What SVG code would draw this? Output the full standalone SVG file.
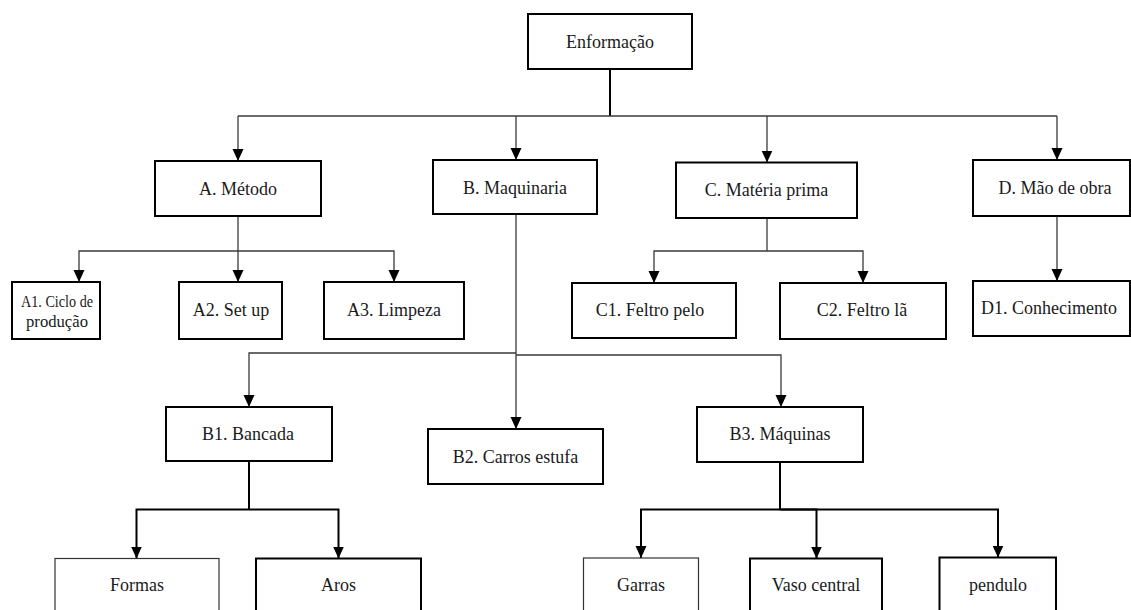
<svg xmlns="http://www.w3.org/2000/svg" width="1131" height="610" viewBox="0 0 1131 610">
  <style>
    .box { fill: #ffffff; stroke: #000000; stroke-width: 2; }
    .box-thin { fill: #ffffff; stroke: #333333; stroke-width: 1.2; }
    .lbl { font-family: "Liberation Serif", "DejaVu Serif", serif; font-size: 18px; fill: #1a1a1a; text-anchor: middle; }
    .lbl-small { font-size: 17px; }
    .link { fill: none; stroke: #3a3a3a; stroke-width: 1.3; }
    .link-root { fill: none; stroke: #000000; stroke-width: 2; }
    .link-bold { fill: none; stroke: #000000; stroke-width: 2; }
  </style>
  <defs>
    <marker id="arrow" markerUnits="userSpaceOnUse" markerWidth="13" markerHeight="12" refX="12" refY="6" orient="auto">
      <path d="M0,0.5 L12,6 L0,11.5 z" fill="#000000"/>
    </marker>
  </defs>

  <rect width="1131" height="610" fill="#ffffff"/>

  <!-- connectors -->
  <g id="connectors">
    <path class="link-root" d="M610,69 V116"/>
    <path class="link" d="M238,116 H1057"/>
    <path class="link" d="M238,116 V161" marker-end="url(#arrow)"/>
    <path class="link" d="M516,116 V160" marker-end="url(#arrow)"/>
    <path class="link" d="M767,116 V162.5" marker-end="url(#arrow)"/>
    <path class="link" d="M1057,116 V160" marker-end="url(#arrow)"/>

    <path class="link" d="M238,216 V251"/>
    <path class="link" d="M238,251 H79 V282" marker-end="url(#arrow)"/>
    <path class="link" d="M238,251 V282" marker-end="url(#arrow)"/>
    <path class="link" d="M238,251 H394 V282" marker-end="url(#arrow)"/>

    <path class="link" d="M767,218 V251"/>
    <path class="link" d="M767,251 H654 V283" marker-end="url(#arrow)"/>
    <path class="link" d="M767,251 H863 V283" marker-end="url(#arrow)"/>

    <path class="link" d="M1057,216 V281" marker-end="url(#arrow)"/>

    <path class="link" d="M516,214 V429" marker-end="url(#arrow)"/>
    <path class="link" d="M516,353 H249 V407" marker-end="url(#arrow)"/>
    <path class="link" d="M516,355 H781 V407" marker-end="url(#arrow)"/>

    <path class="link-bold" d="M249,461 V509.5"/>
    <path class="link-bold" d="M249,509.5 H136.5 V558.5" marker-end="url(#arrow)"/>
    <path class="link-bold" d="M249,509.5 H338.5 V558.5" marker-end="url(#arrow)"/>

    <path class="link-bold" d="M780,462 V509.5"/>
    <path class="link-bold" d="M780,509.5 H641 V558" marker-end="url(#arrow)"/>
    <path class="link-bold" d="M780,509.5 H816.5 V558.5" marker-end="url(#arrow)"/>
    <path class="link-bold" d="M780,509.5 H998 V557.5" marker-end="url(#arrow)"/>
  </g>

  <!-- root -->
  <g id="enformacao">
    <rect class="box" x="528" y="14" width="164" height="55"/>
    <text class="lbl" x="610" y="48">Enformação</text>
  </g>

  <!-- first level -->
  <g id="a-metodo">
    <rect class="box" x="155" y="161" width="166" height="55"/>
    <text class="lbl" x="238" y="195">A. Método</text>
  </g>
  <g id="b-maquinaria">
    <rect class="box" x="433" y="160" width="164" height="54"/>
    <text class="lbl" x="515" y="194">B. Maquinaria</text>
  </g>
  <g id="c-materia-prima">
    <rect class="box" x="676" y="162.5" width="181" height="55.5"/>
    <text class="lbl" x="766.5" y="196">C. Matéria prima</text>
  </g>
  <g id="d-mao-de-obra">
    <rect class="box" x="973" y="160" width="157" height="56"/>
    <text class="lbl" x="1055" y="194">D. Mão de obra</text>
  </g>

  <!-- method children -->
  <g id="a1-ciclo">
    <rect class="box" x="12" y="282" width="88" height="57"/>
    <text class="lbl lbl-small" x="57" y="307" textLength="72" lengthAdjust="spacingAndGlyphs">A1. Ciclo de</text>
    <text class="lbl lbl-small" x="57" y="327" textLength="62" lengthAdjust="spacingAndGlyphs">produção</text>
  </g>
  <g id="a2-setup">
    <rect class="box" x="179" y="282" width="103" height="57"/>
    <text class="lbl" x="231" y="316">A2. Set up</text>
  </g>
  <g id="a3-limpeza">
    <rect class="box" x="324" y="282" width="140" height="57"/>
    <text class="lbl" x="394" y="316">A3. Limpeza</text>
  </g>

  <!-- raw material children -->
  <g id="c1-feltro-pelo">
    <rect class="box" x="572" y="283" width="164" height="55"/>
    <text class="lbl" x="650" y="316">C1. Feltro pelo</text>
  </g>
  <g id="c2-feltro-la">
    <rect class="box" x="780" y="283" width="166" height="56"/>
    <text class="lbl" x="862" y="316">C2. Feltro lã</text>
  </g>

  <!-- labour children -->
  <g id="d1-conhecimento">
    <rect class="box" x="973" y="281" width="157" height="55"/>
    <text class="lbl" x="1049" y="314">D1. Conhecimento</text>
  </g>

  <!-- machinery children -->
  <g id="b1-bancada">
    <rect class="box" x="166" y="407" width="166" height="54"/>
    <text class="lbl" x="248" y="440">B1. Bancada</text>
  </g>
  <g id="b2-carros-estufa">
    <rect class="box" x="428" y="429" width="175" height="55"/>
    <text class="lbl" x="515.5" y="463">B2. Carros estufa</text>
  </g>
  <g id="b3-maquinas">
    <rect class="box" x="697" y="407" width="166" height="55"/>
    <text class="lbl" x="780" y="440">B3. Máquinas</text>
  </g>

  <!-- workbench children -->
  <g id="formas">
    <rect class="box-thin" x="55" y="558.5" width="164" height="70"/>
    <text class="lbl" x="137" y="591">Formas</text>
  </g>
  <g id="aros">
    <rect class="box" x="256" y="558.5" width="165" height="70"/>
    <text class="lbl" x="338.5" y="591">Aros</text>
  </g>

  <!-- machine children -->
  <g id="garras">
    <rect class="box-thin" x="583.5" y="558" width="115" height="70"/>
    <text class="lbl" x="641" y="591">Garras</text>
  </g>
  <g id="vaso-central">
    <rect class="box" x="750" y="558.5" width="132" height="70"/>
    <text class="lbl" x="816" y="591">Vaso central</text>
  </g>
  <g id="pendulo">
    <rect class="box" x="939.5" y="557.5" width="116.5" height="70"/>
    <text class="lbl" x="998" y="591">pendulo</text>
  </g>
</svg>
